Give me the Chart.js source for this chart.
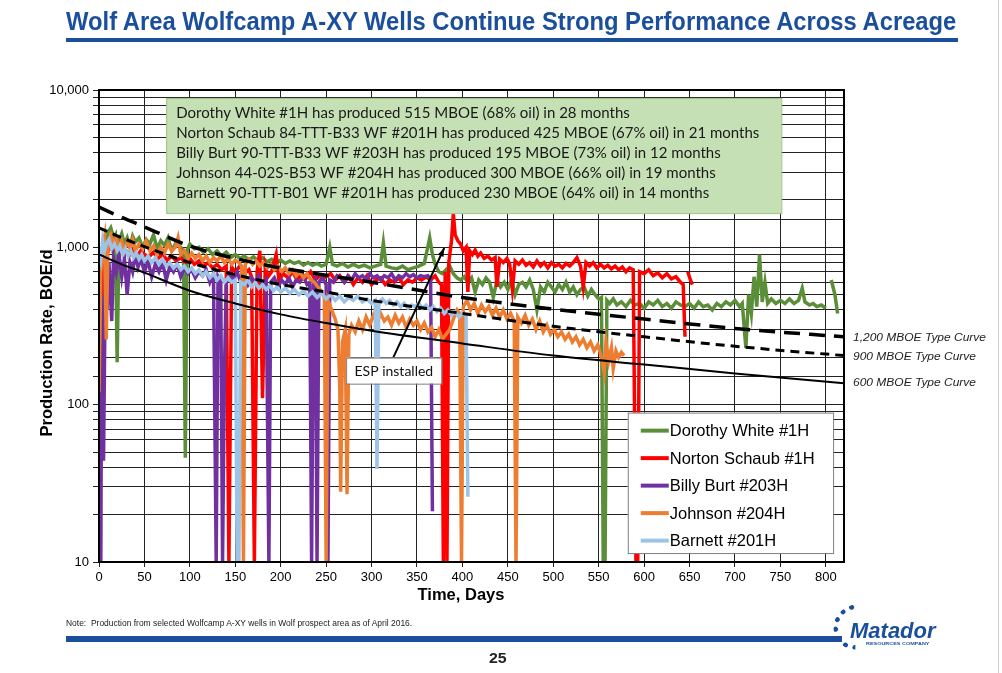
<!DOCTYPE html>
<html>
<head>
<meta charset="utf-8">
<script src="https://cdn.jsdelivr.net/npm/chart.js@4.4.1/dist/chart.umd.min.js"></script>
<style>
  html, body { margin: 0; padding: 0; background: #fff; }
  #page { position: relative; width: 1002px; height: 673px; overflow: hidden; font-family: "Liberation Sans", Arial, sans-serif; }
  #chart { position: absolute; left: 0; top: 0; }
  .fit { position: absolute; white-space: nowrap; transform-origin: 0 0; line-height: 1; }
  #title { left: 66px; top: 9px; font-size: 25px; font-weight: bold; color: #1b4f9c; }
  #rule1 { position: absolute; left: 66px; top: 38px; width: 892px; height: 4px; background: #1b4f9c; }
  #rule2 { position: absolute; left: 66px; top: 636px; width: 776px; height: 6px; background: #1b4f9c; }
  #note { left: 66px; top: 619px; font-size: 9px; color: #222; }
  #pnum { left: 489px; top: 650px; font-size: 15px; font-weight: bold; color: #222; }
  #edge { position: absolute; left: 998px; top: 0; width: 1px; height: 673px; background: #cfcfcf; }
  #gear { position: absolute; left: 834px; top: 604px; width: 34px; height: 36px; border: 5px dotted #1b4f9c; border-right-color: transparent; border-top-color: transparent; border-radius: 50%; transform: rotate(45deg); }
  #logo { left: 850px; top: 620px; font-size: 22px; font-weight: bold; font-style: italic; color: #1b4f9c; }
  #logosub { left: 866px; top: 642px; font-size: 4px; font-weight: bold; color: #1b4f9c; }
</style>
</head>
<body>
<div id="page">
  <canvas id="chart" width="1002" height="673"></canvas>
  <div id="title" class="fit" data-w="890">Wolf Area Wolfcamp A-XY Wells Continue Strong Performance Across Acreage</div>
  <div id="rule1"></div>
  <div id="note" class="fit" data-w="346">Note:&nbsp; Production from selected Wolfcamp A-XY wells in Wolf prospect area as of April 2016.</div>
  <div id="rule2"></div>
  <div id="pnum" class="fit" data-w="18">25</div>
  <div id="gear"></div>
  <div id="logo" class="fit" data-w="86">Matador</div>
  <div id="logosub" class="fit" data-w="64">RESOURCES COMPANY</div>
  <div id="edge"></div>
</div>
<script>
// ---- data: [day, BOE/d] ----
const seriesNames = ['Dorothy White #1H', 'Norton Schaub #1H', 'Billy Burt #203H', 'Johnson #204H', 'Barnett #201H'];
const seriesColors = ['#5b8e38', '#ff0000', '#7030a0', '#ed7d31', '#9dc3e6'];

const dorothyWhite = [
  [8,950],[10,1250],[13,1330],[16,1150],[18,1200],[20,186],[22,1100],[25,1220],[28,1050],[31,1150],[34,1000],[37,1180],
  [40,1080],[44,1150],[48,1000],[52,1120],[56,1050],[60,1200],[64,980],[68,1100],[72,1030],[76,1150],[80,950],[85,1080],
  [90,1000],[93,950],[95,46],[97,960],[100,1050],[105,980],[110,1000],[115,930],[120,980],[125,900],[130,950],[135,880],
  [140,930],[145,860],[150,900],[155,850],[160,880],[165,830],[170,870],[175,820],[180,860],[185,810],[190,840],[195,800],
  [200,830],[205,790],[210,820],[215,790],[220,810],[225,770],[230,800],[235,770],[240,790],[245,760],[250,780],[254,1000],
  [257,780],[262,760],[268,790],[274,750],[280,780],[286,750],[292,770],[298,740],[304,760],[310,780],[313,1070],[316,760],
  [322,740],[328,730],[334,760],[340,720],[346,740],[352,760],[358,790],[361,950],[364,1150],[367,900],[370,780],[374,700],
  [378,680],[382,720],[386,760],[390,680],[394,640],[398,620],[402,650],[406,600],[410,640],[414,520],[418,620],[422,580],
  [426,640],[430,600],[434,480],[438,620],[442,560],[446,600],[450,540],[454,620],[458,500],[462,580],[466,600],[470,560],
  [474,620],[478,540],[482,400],[486,560],[490,520],[494,600],[498,560],[502,520],[506,580],[510,540],[514,600],[518,520],
  [522,560],[526,500],[530,540],[534,560],[538,490],[542,540],[546,500],[550,470],[553,480],[555,10],[557,10],[559,460],
  [562,440],[566,470],[570,430],[575,450],[580,420],[585,460],[590,430],[595,440],[600,410],[605,450],[610,430],[615,460],
  [620,420],[625,440],[630,410],[635,450],[640,430],[645,420],[650,440],[655,410],[660,450],[665,420],[670,430],[675,400],
  [680,440],[685,420],[690,450],[695,430],[700,460],[705,420],[708,440],[712,230],[715,500],[718,380],[721,650],[724,420],
  [727,900],[730,450],[733,600],[736,440],[740,470],[745,440],[750,460],[755,440],[760,470],[765,440],[770,460],[774,550],
  [777,450],[782,430],[786,440],[790,420],[795,430],[800,410],[803,null],[806,620],[810,500],[813,380]
];

const nortonSchaub = [
  [0,10],[1,600],[2,950],[3,120],[4,800],[6,1000],[9,900],[12,1050],[15,950],[18,1000],[22,920],[26,1000],[30,950],
  [34,900],[38,980],[42,880],[46,950],[50,900],[55,870],[60,930],[65,850],[70,900],[75,830],[80,880],[85,820],[90,860],
  [95,800],[100,850],[105,780],[110,820],[115,760],[120,800],[125,740],[130,780],[135,720],[140,760],[143,10],[146,750],
  [150,700],[155,760],[160,680],[165,720],[168,650],[171,10],[174,700],[177,950],[180,110],[183,760],[186,650],[190,700],
  [195,900],[198,620],[203,680],[208,640],[213,700],[218,620],[223,680],[228,640],[233,700],[238,620],[243,660],[248,640],
  [255,680],[260,620],[265,660],[270,600],[275,650],[280,580],[285,640],[290,600],[295,660],[300,580],[305,620],[310,640],
  [315,580],[320,620],[325,600],[330,640],[335,580],[340,620],[345,600],[350,640],[355,620],[360,650],[365,620],[370,660],
  [374,600],[377,580],[379,10],[381,700],[383,10],[385,800],[388,1100],[390,1640],[392,1200],[395,1100],[398,1050],
  [401,950],[404,1000],[406,520],[408,950],[411,900],[414,960],[417,880],[420,920],[424,850],[428,880],[432,830],[436,860],
  [438,560],[441,840],[445,800],[449,850],[452,780],[455,540],[458,820],[462,780],[466,830],[470,770],[474,800],[478,750],
  [482,820],[486,760],[490,800],[494,740],[498,800],[502,760],[506,780],[510,740],[514,790],[518,760],[522,800],[526,860],
  [530,760],[533,560],[536,800],[540,760],[544,800],[548,740],[552,780],[556,740],[560,770],[564,730],[568,760],[572,720],
  [576,750],[580,700],[584,740],[588,720],[591,10],[593,10],[595,700],[600,680],[605,720],[610,660],[615,690],[620,640],
  [625,680],[630,630],[635,650],[640,600],[643,580],[645,270],[646,null],[648,700],[651,620],[653,580]
];

const billyBurt = [
  [2,10],[3,500],[5,44],[7,700],[9,400],[11,800],[14,340],[16,850],[19,700],[22,900],[25,650],[28,850],[31,500],[34,800],
  [37,700],[40,900],[43,750],[46,850],[50,700],[54,820],[58,650],[62,780],[66,700],[70,800],[74,620],[78,760],[82,700],
  [86,780],[90,650],[94,740],[98,680],[102,720],[106,640],[110,700],[114,660],[118,720],[122,600],[126,680],[129,10],
  [131,650],[134,600],[136,10],[138,150],[140,600],[144,680],[148,620],[152,700],[156,600],[160,660],[164,580],[168,640],
  [172,600],[176,660],[180,580],[184,620],[187,10],[189,600],[193,640],[197,560],[201,620],[205,580],[209,640],[213,560],
  [217,620],[221,600],[225,650],[229,580],[232,600],[234,10],[236,580],[238,620],[240,10],[242,600],[246,640],[250,580],
  [252,10],[254,620],[258,600],[262,660],[266,640],[270,600],[274,660],[278,620],[282,680],[286,640],[290,660],[294,620],
  [298,680],[302,640],[306,660],[310,620],[314,660],[318,640],[322,680],[326,620],[330,660],[334,640],[338,680],[342,650],
  [346,670],[350,640],[354,660],[358,650],[362,660],[365,630],[367,21]
];

const johnson = [
  [0,120],[2,700],[4,1000],[6,1150],[8,260],[10,1100],[13,1200],[16,1050],[19,1150],[22,1000],[25,1100],[28,950],
  [31,1080],[34,1000],[37,1120],[40,950],[44,1050],[48,980],[52,1100],[56,950],[60,1020],[64,900],[68,1000],[72,920],
  [76,1050],[80,950],[84,1000],[87,1150],[90,900],[94,950],[98,850],[102,920],[106,850],[110,900],[114,820],[118,880],
  [122,800],[126,860],[130,820],[134,880],[138,800],[142,850],[146,780],[150,830],[154,800],[157,760],[159,10],[161,780],
  [165,840],[169,780],[173,820],[177,760],[181,800],[185,740],[189,780],[193,720],[197,760],[201,700],[205,740],[209,680],
  [213,720],[217,660],[221,700],[225,640],[229,680],[233,620],[237,600],[241,560],[245,520],[248,480],[250,10],[252,460],
  [256,400],[260,350],[263,300],[265,130],[266,28],[268,250],[271,300],[273,27],[275,280],[278,320],[282,290],[286,340],
  [290,300],[294,360],[298,320],[302,370],[306,330],[310,380],[314,340],[318,360],[322,320],[326,370],[330,330],[334,360],
  [338,310],[342,350],[346,320],[350,340],[354,300],[358,330],[362,290],[366,310],[370,270],[374,300],[378,260],[382,280],
  [386,300],[390,350],[394,400],[397,380],[399,10],[401,420],[405,460],[409,400],[413,440],[417,380],[421,430],[425,390],
  [429,420],[433,370],[437,410],[441,360],[445,400],[449,350],[453,380],[457,340],[459,10],[461,360],[465,330],[469,370],
  [473,320],[477,350],[481,300],[485,340],[489,290],[493,320],[497,280],[501,300],[505,270],[509,290],[513,260],[517,280],
  [521,250],[525,270],[529,240],[533,260],[537,230],[541,250],[545,220],[549,240],[553,200],[556,160],[558,250],[561,190],
  [564,230],[566,170],[569,220],[572,200],[575,215],[578,205]
];

const barnett = [
  [0,1000],[2,850],[4,1100],[6,950],[8,1050],[11,1120],[14,980],[17,1050],[20,950],[23,1020],[26,900],[29,980],[32,880],
  [35,950],[38,860],[41,920],[44,840],[47,900],[50,820],[54,880],[58,800],[62,860],[66,780],[70,840],[74,760],[78,800],
  [82,740],[86,780],[90,720],[94,760],[98,700],[102,740],[106,680],[110,720],[114,660],[118,700],[122,640],[126,680],
  [130,620],[134,660],[138,600],[142,640],[146,600],[150,620],[152,10],[154,10],[156,600],[160,580],[164,620],[168,560],
  [172,600],[176,550],[180,580],[184,540],[188,570],[192,530],[196,560],[200,520],[205,550],[210,510],[215,540],[220,500],
  [225,530],[230,490],[235,520],[240,480],[245,510],[250,470],[255,500],[260,460],[265,490],[270,450],[275,480],[280,460],
  [285,490],[290,450],[295,470],[300,440],[304,460],[306,39],[308,450],[312,470],[316,440],[320,460],[324,430],[328,450],
  [332,420],[336,440],[340,410],[344,430],[348,420],[352,440],[356,410],[360,430],[364,400],[368,420],[372,390],[376,410],
  [380,380],[384,400],[388,370],[392,390],[396,360],[400,380],[404,370],[406,26]
];

// type curves, read at these days
const typeCurveDays = [0, 25, 50, 100, 150, 200, 250, 300, 400, 500, 600, 700, 820];
const typeCurve1200 = [1800, 1550, 1350, 1020, 850, 740, 665, 600, 480, 405, 350, 305, 270];
const typeCurve900 = [1330, 1150, 1010, 800, 670, 580, 520, 460, 380, 315, 270, 235, 205];
const typeCurve600 = [900, 780, 690, 530, 440, 375, 330, 295, 245, 205, 180, 158, 137];
const typeCurveNames = ['1,200 MBOE Type Curve', '900 MBOE Type Curve', '600 MBOE Type Curve'];

const xTicks = [0, 50, 100, 150, 200, 250, 300, 350, 400, 450, 500, 550, 600, 650, 700, 750, 800];
const yTickLabels = [10, 100, 1000, 10000];

const noteLines = [
  'Dorothy White #1H has produced 515 MBOE (68% oil) in 28 months',
  'Norton Schaub 84-TTT-B33 WF #201H has produced 425 MBOE (67% oil) in 21 months',
  'Billy Burt 90-TTT-B33 WF #203H has produced 195 MBOE (73% oil) in 12 months',
  'Johnson 44-02S-B53 WF #204H has produced 300 MBOE (66% oil) in 19 months',
  'Barnett 90-TTT-B01 WF #201H has produced 230 MBOE (64% oil) in 14 months'
];

// ---- layout of slide text ----
document.querySelectorAll('.fit').forEach(el => {
  const w = parseFloat(el.dataset.w);
  el.style.transform = 'scaleX(' + (w / el.offsetWidth) + ')';
});

const toPts = arr => arr.map(p => ({ x: p[0], y: p[1] }));
const wells = [dorothyWhite, nortonSchaub, billyBurt, johnson, barnett];

const datasets = wells.map((w, i) => ({
  label: seriesNames[i],
  data: toPts(w),
  borderColor: seriesColors[i],
  borderWidth: 3.5,
  pointRadius: 0,
  tension: 0,
  spanGaps: false,
  order: 5 - i
}));

const tcStyles = [
  { dash: [16, 9], width: 3.5 },
  { dash: [9, 6], width: 3 },
  { dash: [], width: 2 }
];
[typeCurve1200, typeCurve900, typeCurve600].forEach((vals, i) => {
  datasets.push({
    label: typeCurveNames[i],
    data: typeCurveDays.map((d, k) => ({ x: d, y: vals[k] })),
    borderColor: '#000',
    borderWidth: tcStyles[i].width,
    borderDash: tcStyles[i].dash,
    pointRadius: 0,
    cubicInterpolationMode: 'monotone',
    order: 0
  });
});

const overlay = {
  id: 'overlay',
  afterDatasetsDraw(chart) {
    const ctx = chart.ctx;
    const xs = chart.scales.x, ys = chart.scales.y;
    const area = chart.chartArea;
    ctx.save();

    // green summary box
    const bx0 = xs.getPixelForValue(74), bx1 = xs.getPixelForValue(751);
    const by0 = ys.getPixelForValue(8900), by1 = ys.getPixelForValue(1650);
    ctx.fillStyle = '#c5e0b4';
    ctx.fillRect(bx0, by0, bx1 - bx0, by1 - by0);
    ctx.strokeStyle = '#9fc383';
    ctx.lineWidth = 1;
    ctx.strokeRect(bx0 + 0.5, by0 + 0.5, bx1 - bx0, by1 - by0);
    let fs = 15;
    ctx.font = fs + 'px Lato, "Open Sans", sans-serif';
    const widest = Math.max(...noteLines.map(t => ctx.measureText(t).width));
    fs = fs * 584 / widest;
    ctx.font = fs + 'px Lato, "Open Sans", sans-serif';
    ctx.fillStyle = '#1a1a1a';
    ctx.textBaseline = 'middle';
    ctx.textAlign = 'left';
    noteLines.forEach((t, i) => ctx.fillText(t, bx0 + 10, by0 + 15 + 20 * i));

    // ESP installed callout
    const ax0 = xs.getPixelForValue(324), ay0 = ys.getPixelForValue(200);
    const ax1 = xs.getPixelForValue(380), ay1 = ys.getPixelForValue(990);
    ctx.strokeStyle = '#000';
    ctx.lineWidth = 2;
    ctx.beginPath();
    ctx.moveTo(ax0, ay0);
    ctx.lineTo(ax1, ay1);
    ctx.stroke();
    const ang = Math.atan2(ay1 - ay0, ax1 - ax0);
    ctx.fillStyle = '#000';
    ctx.beginPath();
    ctx.moveTo(ax1, ay1);
    ctx.lineTo(ax1 - 9 * Math.cos(ang - 0.35), ay1 - 9 * Math.sin(ang - 0.35));
    ctx.lineTo(ax1 - 9 * Math.cos(ang + 0.35), ay1 - 9 * Math.sin(ang + 0.35));
    ctx.closePath();
    ctx.fill();
    const ex0 = xs.getPixelForValue(272), ex1 = xs.getPixelForValue(377);
    const ey0 = ys.getPixelForValue(199), ey1 = ys.getPixelForValue(136);
    ctx.fillStyle = '#fff';
    ctx.fillRect(ex0, ey0, ex1 - ex0, ey1 - ey0);
    ctx.strokeStyle = '#7f7f7f';
    ctx.lineWidth = 1;
    ctx.strokeRect(ex0 + 0.5, ey0 + 0.5, ex1 - ex0, ey1 - ey0);
    ctx.fillStyle = '#111';
    ctx.font = '14px Lato, "Open Sans", sans-serif';
    ctx.textAlign = 'center';
    ctx.fillText('ESP installed', (ex0 + ex1) / 2, (ey0 + ey1) / 2 + 1);

    // legend box
    const lx0 = xs.getPixelForValue(582), lx1 = xs.getPixelForValue(808);
    const ly0 = ys.getPixelForValue(89), ly1 = ys.getPixelForValue(11.4);
    ctx.fillStyle = '#fff';
    ctx.fillRect(lx0, ly0, lx1 - lx0, ly1 - ly0);
    ctx.strokeStyle = '#7f7f7f';
    ctx.strokeRect(lx0 + 0.5, ly0 + 0.5, lx1 - lx0, ly1 - ly0);
    ctx.font = '16.5px "Liberation Sans", Arial, sans-serif';
    ctx.textAlign = 'left';
    seriesNames.forEach((n, i) => {
      const yy = ly0 + 18 + 27.5 * i;
      ctx.strokeStyle = seriesColors[i];
      ctx.lineWidth = 4;
      ctx.beginPath();
      ctx.moveTo(lx0 + 13, yy);
      ctx.lineTo(lx0 + 41, yy);
      ctx.stroke();
      ctx.fillStyle = '#000';
      ctx.fillText(n, lx0 + 42, yy + 1);
    });

    // plot frame
    ctx.strokeStyle = '#000';
    ctx.lineWidth = 2;
    ctx.strokeRect(area.left, area.top, area.right - area.left, area.bottom - area.top);

    // type curve labels at the right end of each curve (text is stretched on the slide)
    ctx.font = 'italic 11px "Liberation Sans", Arial, sans-serif';
    ctx.fillStyle = '#222';
    const sx = 133 / ctx.measureText(typeCurveNames[0]).width;
    [typeCurve1200, typeCurve900, typeCurve600].forEach((vals, i) => {
      const yy = ys.getPixelForValue(vals[vals.length - 1]) + (i === 2 ? 0 : 1);
      ctx.save();
      ctx.translate(area.right + 9, yy);
      ctx.scale(sx, 1);
      ctx.fillText(typeCurveNames[i], 0, 0);
      ctx.restore();
    });

    // axis titles
    ctx.font = 'bold 16.5px "Liberation Sans", Arial, sans-serif';
    ctx.fillStyle = '#000';
    ctx.textAlign = 'center';
    ctx.fillText('Time, Days', 461, 595);
    ctx.save();
    ctx.translate(47, 343);
    ctx.rotate(-Math.PI / 2);
    ctx.fillText('Production Rate, BOE/d', 0, 0);
    ctx.restore();
    ctx.restore();
  }
};

Chart.defaults.font.family = '"Liberation Sans", Arial, sans-serif';
Chart.defaults.color = '#000';

new Chart(document.getElementById('chart').getContext('2d'), {
  type: 'line',
  data: { datasets },
  options: {
    responsive: false,
    animation: false,
    devicePixelRatio: 1,
    layout: { padding: { left: 1, top: 90, right: 158, bottom: 63 } },
    plugins: { legend: { display: false }, tooltip: { enabled: false } },
    scales: {
      x: {
        type: 'linear',
        min: 0,
        max: 820,
        afterFit: s => { s.height = 48; },
        afterBuildTicks: s => { s.ticks = xTicks.map(v => ({ value: v })); },
        ticks: { font: { size: 13 }, padding: 3, maxRotation: 0, autoSkip: false },
        grid: { color: '#222', lineWidth: 1, tickLength: 5 },
        border: { display: true, color: '#000', width: 2 }
      },
      y: {
        type: 'logarithmic',
        min: 10,
        max: 10000,
        afterFit: s => { s.width = 98; },
        ticks: {
          autoSkip: false,
          font: { size: 13 },
          padding: 4,
          callback: v => yTickLabels.includes(v) ? v.toLocaleString('en-US') : ''
        },
        grid: { color: '#222', lineWidth: 1, tickLength: 6 },
        border: { display: true, color: '#000', width: 2 }
      }
    }
  },
  plugins: [overlay]
});
</script>
</body>
</html>
